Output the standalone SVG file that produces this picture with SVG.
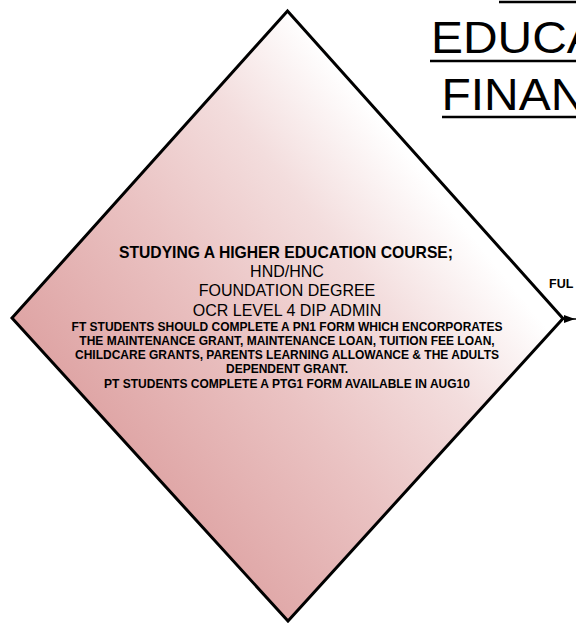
<svg xmlns="http://www.w3.org/2000/svg" width="576" height="623" viewBox="0 0 576 623">
<defs>
<linearGradient id="pinkGrad" gradientUnits="userSpaceOnUse" x1="110" y1="500" x2="460" y2="220">
<stop offset="0" stop-color="#dc9e9e"/>
<stop offset="0.45" stop-color="#eac2c2"/>
<stop offset="0.75" stop-color="#f3dddd"/>
<stop offset="1" stop-color="#ffffff"/>
</linearGradient>
<style>
.t{font-family:"Liberation Sans",Arial,sans-serif;fill:#000;text-anchor:middle}
.b{font-weight:bold}
.big{font-size:16px}
.sm{font-size:12px;font-weight:bold}
.title{font-family:"Liberation Sans",Arial,sans-serif;font-size:44px;fill:#000}
.rule{stroke:#000;stroke-width:2.5}
</style>
</defs>
<rect width="576" height="623" fill="#fff"/>
<g id="title">
<line class="rule" x1="499" y1="2" x2="576" y2="2"/>
<text class="title" transform="translate(431,53) scale(1.09,1)">EDUCA</text>
<line class="rule" x1="430" y1="61" x2="576" y2="61"/>
<text class="title" transform="translate(441.5,110) scale(1.09,1)">FINAN</text>
<line class="rule" x1="442" y1="117" x2="576" y2="117"/>
</g>
<g id="node-he-course">
<polygon points="287.5,11 563,318.5 288,621 12,318" fill="url(#pinkGrad)" stroke="#000" stroke-width="3" stroke-linejoin="miter"/>
<text class="t b" x="286" y="258" font-size="15.7">STUDYING A HIGHER EDUCATION COURSE;</text>
<text class="t big" x="287" y="277">HND/HNC</text>
<text class="t big" x="287" y="296">FOUNDATION DEGREE</text>
<text class="t big" x="287" y="315.5">OCR LEVEL 4 DIP ADMIN</text>
<text class="t sm" x="287" y="330.5">FT STUDENTS SHOULD COMPLETE A PN1 FORM WHICH ENCORPORATES</text>
<text class="t sm" x="287" y="344.5">THE MAINTENANCE GRANT, MAINTENANCE LOAN, TUITION FEE LOAN,</text>
<text class="t sm" x="287" y="358.5">CHILDCARE GRANTS, PARENTS LEARNING ALLOWANCE &amp; THE ADULTS</text>
<text class="t sm" x="287" y="373">DEPENDENT GRANT.</text>
<text class="t sm" x="287" y="387.5">PT STUDENTS COMPLETE A PTG1 FORM AVAILABLE IN AUG10</text>
</g>
<g id="connectors">
<line x1="563" y1="319" x2="576" y2="319" stroke="#000" stroke-width="1.5"/>
<polygon points="564,315 575,319 564,323" fill="#000"/>
<text x="549" y="288" font-family="Liberation Sans, Arial, sans-serif" font-size="12.5" font-weight="bold" fill="#000">FUL</text>
</g>
</svg>
